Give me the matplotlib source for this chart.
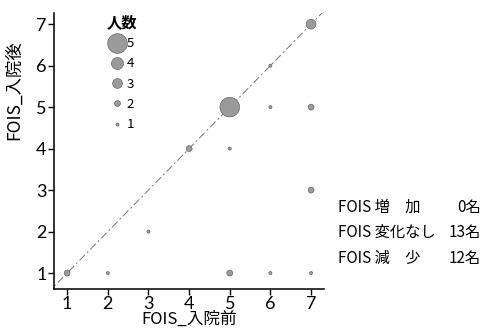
import matplotlib.pyplot as plt
from matplotlib.lines import Line2D

plt.rcParams['font.family'] = ['Noto Sans CJK JP', 'DejaVu Sans']

# FOIS before / after admission, number of patients at each point
fois_before = [1, 2, 3, 4, 5, 5, 5, 6, 6, 6, 7, 7, 7, 7]
fois_after = [1, 1, 2, 4, 5, 4, 1, 6, 5, 1, 7, 5, 3, 1]
n_people = [2, 1, 1, 2, 5, 1, 2, 1, 1, 1, 3, 2, 2, 1]

legend_counts = [5, 4, 3, 2, 1]
size_of = {1: 5, 2: 18, 3: 50, 4: 75, 5: 200}

summary_labels = ['FOIS 増　加', 'FOIS 変化なし', 'FOIS 減　少']
summary_counts = [0, 13, 12]

fig = plt.figure(figsize=(4.83, 3.32), dpi=100)
ax = fig.add_axes([0.112, 0.13, 0.559, 0.831])

ax.plot([0.5, 7.5], [0.5, 7.5], color='#777777', lw=0.7,
        linestyle=(0, (8, 3, 2, 3)), zorder=1)

sizes = [size_of[n] for n in n_people]
ax.scatter(fois_before, fois_after, s=sizes, color='#9a9a9a',
           edgecolor='#555555', linewidth=0.4, zorder=2)

ax.set_xlim(0.68, 7.32)
ax.set_ylim(0.62, 7.27)
ax.set_xticks(range(1, 8))
ax.set_yticks(range(1, 8))
ax.tick_params(labelsize=13, length=4, width=1, pad=1.5)
for lbl in ax.get_xticklabels() + ax.get_yticklabels():
    lbl.set_family('Lato')
for s in ['top', 'right']:
    ax.spines[s].set_visible(False)
for s in ['left', 'bottom']:
    ax.spines[s].set_linewidth(1.1)

ax.set_xlabel('FOIS_入院前', fontsize=12, labelpad=-1)
ax.set_ylabel('FOIS_入院後', fontsize=12.5)
ax.yaxis.set_label_coords(-0.115, 0.72)

handles = [Line2D([], [], marker='o', linestyle='', markersize=size_of[c] ** 0.5,
                  markerfacecolor='#9a9a9a', markeredgecolor='#555555',
                  markeredgewidth=0.4) for c in legend_counts]
leg = ax.legend(handles, [str(c) for c in legend_counts], title='人数',
                loc='upper left', bbox_to_anchor=(0.16, 1.03), frameon=False,
                fontsize=9.5, title_fontsize=11, handletextpad=0.1,
                labelspacing=0.55, borderpad=0.2, handlelength=1.2)
leg.get_title().set_fontweight('bold')

for i, (lab, cnt) in enumerate(zip(summary_labels, summary_counts)):
    y = 1 - (207 + 25.5 * i) / 332
    fig.text(338 / 483, y, lab, fontsize=11, va='center', ha='left')
    fig.text(481 / 483, y, f'{cnt}名', fontsize=11, va='center', ha='right')

fig.savefig('out.png', dpi=100)
